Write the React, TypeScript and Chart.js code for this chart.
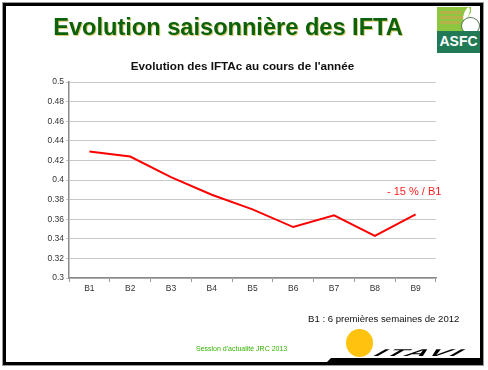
import React, { useEffect, useRef } from "react";
import { Chart, registerables } from "chart.js";

Chart.register(...registerables);

const categories = ["B1", "B2", "B3", "B4", "B5", "B6", "B7", "B8", "B9"];
const iftaValues = [0.429, 0.424, 0.403, 0.385, 0.37, 0.352, 0.364, 0.343, 0.365];
const yTickValues = [0.3, 0.32, 0.34, 0.36, 0.38, 0.4, 0.42, 0.44, 0.46, 0.48, 0.5];
const yTickLabels = ["0.3", "0.32", "0.34", "0.36", "0.38", "0.4", "0.42", "0.44", "0.46", "0.48", "0.5"];

const mainTitle = "Evolution saisonnière des IFTA";
const chartTitle = "Evolution des IFTAc au cours de l'année";
const annotationText = "- 15 % / B1";
const noteText = "B1 : 6 premières semaines de 2012";
const sessionText = "Session d'actualité JRC 2013";

const FONT = "'Liberation Sans', Arial, Helvetica, sans-serif";

export default function App() {
  const canvasRef = useRef<HTMLCanvasElement | null>(null);

  useEffect(() => {
    const canvas = canvasRef.current;
    if (!canvas) return;
    const chart = new Chart(canvas, {
      type: "line",
      data: {
        labels: categories,
        datasets: [
          {
            label: "IFTAc",
            data: iftaValues,
            borderColor: "#ff0000",
            backgroundColor: "#ff0000",
            borderWidth: 2,
            pointRadius: 0,
            tension: 0,
            fill: false,
            yAxisID: "y",
          },
        ],
      },
      options: {
        responsive: false,
        animation: false,
        devicePixelRatio: 1,
        layout: { padding: { left: 45, right: 48, top: 60, bottom: 0 } },
        plugins: {
          legend: { display: false },
          tooltip: { enabled: false },
          title: {
            display: true,
            text: chartTitle,
            color: "#111111",
            font: { family: FONT, size: 11.7, weight: "bold" },
            padding: { top: 0, bottom: 8 },
          },
        },
        scales: {
          x: {
            type: "category",
            offset: true,
            afterFit: (s: any) => {
              s.height = 92;
            },
            grid: {
              offset: true,
              drawOnChartArea: false,
              drawTicks: true,
              tickLength: 4,
              color: "#999999",
            },
            border: { color: "#8a8a8a", width: 1.5 },
            ticks: {
              color: "#333333",
              font: { family: FONT, size: 8.5 },
              padding: 2,
              maxRotation: 0,
            },
          },
          y: {
            type: "linear",
            position: "left",
            min: 0.3,
            max: 0.5,
            afterFit: (s: any) => {
              s.width = 24;
            },
            afterBuildTicks: (s: any) => {
              s.ticks = yTickValues.map((v) => ({ value: v }));
            },
            grid: {
              color: "#c8c8c8",
              lineWidth: 1,
              drawTicks: true,
              tickLength: 3,
            },
            border: { color: "#8a8a8a", width: 1.5 },
            ticks: {
              color: "#333333",
              font: { family: FONT, size: 8.5 },
              padding: 2,
              callback: (v: any) => {
                const i = yTickValues.findIndex((t) => Math.abs(t - Number(v)) < 1e-9);
                return i >= 0 ? yTickLabels[i] : "";
              },
            },
          },
          yRight: {
            type: "linear",
            position: "right",
            min: 0.3,
            max: 0.5,
            afterFit: (s: any) => {
              s.width = 4;
            },
            grid: { drawOnChartArea: false, drawTicks: false },
            border: { display: false },
            ticks: { display: false },
          },
        },
      },
    });
    return () => chart.destroy();
  }, []);

  const abs = (s: React.CSSProperties): React.CSSProperties => ({ position: "absolute", ...s });

  return (
    <div
      style={{
        position: "fixed",
        left: 0,
        top: 0,
        width: 488,
        height: 370,
        background: "#ffffff",
        overflow: "hidden",
        fontFamily: FONT,
      }}
    >
      <canvas ref={canvasRef} width={488} height={370} style={abs({ left: 0, top: 0, width: 488, height: 370 })} />

      {/* main title */}
      <div
        style={abs({
          left: 0,
          top: 15,
          width: 456,
          textAlign: "center",
          fontSize: 23.6,
          lineHeight: "24px",
          fontWeight: "bold",
          color: "#0c620c",
          whiteSpace: "nowrap",
          textShadow: "1px 1px 0 rgba(190,160,0,0.55)",
        })}
      >
        {mainTitle}
      </div>

      {/* annotation */}
      <div
        style={abs({
          left: 387,
          top: 186.3,
          fontSize: 11,
          lineHeight: "11px",
          color: "#ff2222",
          whiteSpace: "nowrap",
        })}
      >
        {annotationText}
      </div>

      {/* note */}
      <div
        style={abs({
          left: 308,
          top: 314,
          fontSize: 9.6,
          lineHeight: "9.6px",
          color: "#111111",
          whiteSpace: "nowrap",
        })}
      >
        {noteText}
      </div>

      {/* session */}
      <div
        style={abs({
          left: 196,
          top: 345,
          fontSize: 7,
          lineHeight: "7px",
          color: "#33b300",
          whiteSpace: "nowrap",
        })}
      >
        {sessionText}
      </div>

      {/* ITAVI logo */}
      <div style={abs({ left: 346, top: 329, width: 27, height: 28, borderRadius: "50%", background: "#ffc20e" })} />
      <div
        style={abs({
          left: 327,
          top: 358,
          width: 154,
          height: 4,
          background: "#000000",
          clipPath: "polygon(4px 0, 100% 0, 100% 100%, 0 100%)",
        })}
      />
      <div
        style={abs({
          left: 368,
          top: 348,
          fontSize: 10,
          lineHeight: "10px",
          fontWeight: "bold",
          letterSpacing: 1,
          color: "#000000",
          whiteSpace: "nowrap",
          transform: "scale(3, 1) skewX(-30deg)",
          transformOrigin: "left bottom",
        })}
      >
        ITAVI
      </div>

      {/* ASFC logo */}
      <div style={abs({ left: 437, top: 7, width: 43, height: 46, background: "#ffffff" })}>
        <div style={abs({ left: 0, top: 0, width: 34, height: 25, background: "#8dc63f" })}>
          <div style={abs({ left: 3, top: 4, width: 22, height: 3, background: "#b6b24a" })} />
          <div style={abs({ left: 3, top: 9, width: 24, height: 3, background: "#b6b24a" })} />
          <div style={abs({ left: 3, top: 14, width: 20, height: 3, background: "#b6b24a" })} />
        </div>
        <div style={abs({ left: 27, top: 0, width: 5, height: 14, background: "#ffffff", borderRadius: "50%", transform: "rotate(20deg)" })} />
        <div style={abs({ left: 33, top: 1, width: 5, height: 13, background: "#ffffff", borderRadius: "50%", transform: "rotate(35deg)" })} />
        <div style={abs({ left: 24, top: 10, width: 17, height: 16, background: "#ffffff", borderRadius: "50%", border: "1px solid #557755" })} />
        <div
          style={abs({
            left: 0,
            top: 24,
            width: 43,
            height: 22,
            background: "#217a55",
            color: "#ffffff",
            fontSize: 14,
            lineHeight: "14px",
            fontWeight: "bold",
            textAlign: "center",
          })}
        >
          <div style={{ marginTop: 3 }}>ASFC</div>
        </div>
      </div>

      {/* frame */}
      <div
        style={abs({
          left: 3,
          top: 3,
          width: 474,
          height: 356,
          border: "3px solid #000000",
          boxShadow: "0 0 0 1px #9a9a9a",
          pointerEvents: "none",
        })}
      />
    </div>
  );
}
